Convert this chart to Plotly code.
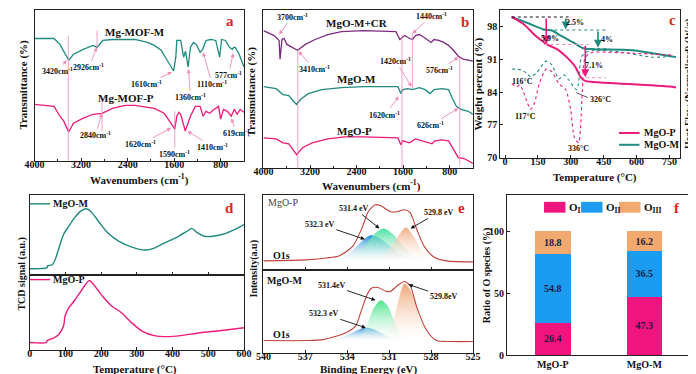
import plotly.graph_objects as go

# ---------------- data ----------------
# (a) FTIR of the MOF precursors (wavenumber cm-1, transmittance a.u.)
mof_m_wn = [4000,3665,3565,3414,3330,3163,2995,2926,2828,2660,2275,2058,1941,1823,1773,1723,1656,1610,1572,1555,
            1488,1438,1405,1360,1321,1271,1221,1154,1110,1053,969,886,819,785,718,651,601,577,551,484,400]
mof_m_t = [124,124,118,102,108,113,117,115,122,123,123,120,117,112,107,102,95,91,105,122,
           122,105,111,95,115,120,118,110,113,122,123,122,105,123,122,115,113,115,115,108,95]
mof_p_wn = [4000,3665,3565,3498,3414,3330,3163,2995,2840,2660,2442,2275,1941,1773,1656,1590,1555,1521,1488,1438,
            1410,1321,1237,1154,1103,1053,986,936,836,802,752,685,619,567,517,467,400]
mof_p_t = [57,55,45,40,29,38,43,47,48,53,56,56,53,48,38,32,45,49,47,35,
           30,45,55,55,45,50,48,51,55,42,52,50,45,52,47,52,49]

# (b) FTIR of the oxides
cr_wn = [4000,3900,3816,3732,3715,3682,3648,3598,3498,3414,3280,3113,2895,2660,2275,1723,1656,1622,1572,1488,
         1438,1388,1321,1237,1154,1120,1070,986,902,819,735,651,567,467,400]
cr_t = [140,137,135,130,111,131,132,126,123,120,126,131,136,139,140,139,131,133,135,132,
        131,135,136,133,130,128,131,130,128,125,120,114,111,110,109]
mgo_m_wn = [4000,3782,3665,3565,3481,3431,3364,3230,2995,2660,2275,1689,1639,1606,1522,1438,1321,1221,1137,1070,
            936,819,752,685,601,484,400]
mgo_m_t = [83,81,75,74,68,65,70,76,80,82,83,83,76,80,81,80,82,80,76,80,81,80,71,63,60,58,55]
mgo_p_wn = [4000,3782,3665,3565,3481,3431,3330,3163,2895,2610,2275,1689,1639,1606,1488,1388,1271,1154,1103,1053,
            936,819,735,651,551,400]
mgo_p_t = [31,30,26,25,18,14,21,26,30,32,32,31,24,28,26,30,28,26,25,28,29,28,20,11,10,5]

# (c) TGA (weight %) and DSC (heat flow, a.u.)
tga_p_T = [30,89,134,165,192,237,281,321,344,366,402,750,780]
tga_p_w = [100.1,98.4,96.3,95.1,94.2,93.2,91.5,89.4,87.3,86.4,86.2,85.2,85.0]
tga_m_T = [30,103,179,214,254,313,357,402,580,780]
tga_m_w = [100.1,98.8,97.4,97.2,96.1,94.6,93.4,93.2,93.0,91.5]
dsc_m_T = [31,76,103,116,147,188,214,246,268,290,326,335,348,371,402,536,670,772]
dsc_m_h = [9.0,8.9,8.5,8.2,8.7,9.8,9.4,8.0,8.4,7.9,6.9,7.5,10.2,10.7,10.9,10.7,10.2,10.3]
dsc_p_T = [31,54,67,80,103,117,134,156,188,214,246,277,299,317,336,344,353,362,379,402,580,772]
dsc_p_h = [7.5,7.2,7.4,6.9,5.5,4.9,5.5,7.5,9.0,8.7,7.5,6.9,4.9,2.0,1.5,2.9,6.9,9.9,10.5,10.7,10.6,10.4]

# (d) CO2-TPD
tpd_m_T = [0,49,50,63,72,81,95,109,126,145,158,172,195,217,249,286,322,349,376,412,440,454,468,490,513,549,586,600]
tpd_m_s = [6,7,9,10,16,26,41,49,58,65,67,64,53,43,34,28,25,27,32,38,44,47,43,39,39,42,48,51]
tpd_p_T = [0,47,49,63,81,95,99,109,126,145,158,167,181,204,227,258,286,317,349,385,422,477,532,600]
tpd_p_s = [8,8,10,12,16,25,35,43,51,61,68,71,66,55,46,38,28,19,15,14,15,18,20,23]

# (e) XPS O1s
xp_env_e = [540,537,535.5,534.6,533.6,532.9,532.5,532.0,531.6,530.9,530.4,529.9,529.5,529.1,528.5,527.8,526.9,525]
xp_env_i = [9,10,12,14,24,44,59,66,65,59,59,61,58,44,24,13,9,8]
xp_b_e = [536.0,535.0,534.0,533.3,532.8,532.3,531.8,531.0,530.3,529.5,528.5]
xp_b_i = [9,11,15,24,31,35,33,25,17,11,9]
xp_g_e = [534.5,533.5,532.7,532.0,531.4,530.8,530.0,529.3,528.5]
xp_g_i = [9,14,25,37,42,37,24,14,9]
xp_o_e = [532.0,531.0,530.4,529.8,529.2,528.6,528.0,527.5]
xp_o_i = [9,20,33,43,33,18,11,9]
xm_env_e = [540,537,535.7,534.1,533.4,533.0,532.6,532.3,531.8,531.2,530.9,530.4,529.9,529.5,529.0,528.3,527.6,526.5,525]
xm_env_i = [13,13,14,21,28,43,59,66,67,63,63,69,73,69,46,23,13,12,12]
xm_b_e = [535.5,534.5,533.8,533.2,532.7,532.2,531.6,531.0,530.4]
xm_b_i = [13,16,20,24,26,25,21,16,13]
xm_g_e = [533.2,532.6,532.1,531.6,531.1,530.6,530.1,529.6]
xm_g_i = [13,28,46,54,48,32,18,13]
xm_o_e = [531.4,530.9,530.4,529.9,529.4,528.9,528.3,527.6]
xm_o_i = [13,24,50,71,62,40,20,13]

# (f) oxygen species ratio
samples = ["MgO-P", "MgO-M"]
o1 = [26.4, 47.3]
o2 = [54.8, 36.5]
o3 = [18.8, 16.2]

# ---------------- styling ----------------
W, H = 696, 374
def X(px): return px / W
def Y(py): return 1 - py / H

SERIF = "Liberation Serif"
TEAL = "#1f8b80"; PINK = "#ec1a7b"; PURPLE = "#7b2c80"; RED = "#e8231b"
LPINK = "#f08ab8"; DARK = "#111111"
ENV = "#c2413c"

fig = go.Figure()

def line(x, y, xa, ya, color, width=1.3, dash="solid", shape="linear"):
    fig.add_trace(go.Scatter(x=x, y=y, xaxis=xa, yaxis=ya, mode="lines",
                             line=dict(color=color, width=width, dash=dash, shape=shape, smoothing=0.7),
                             hoverinfo="skip"))

# a
line(mof_m_wn, mof_m_t, "x", "y", TEAL, 1.3)
line(mof_p_wn, mof_p_t, "x", "y", PINK, 1.3)
# b
line(cr_wn, cr_t, "x2", "y2", PURPLE, 1.3)
line(mgo_m_wn, mgo_m_t, "x2", "y2", TEAL, 1.3)
line(mgo_p_wn, mgo_p_t, "x2", "y2", PINK, 1.3)
# c
line(dsc_m_T, dsc_m_h, "x3", "y4", TEAL, 1.1, "dot", "spline")
line(dsc_p_T, dsc_p_h, "x3", "y4", PINK, 1.1, "dot", "spline")
line(tga_m_T, tga_m_w, "x3", "y3", TEAL, 2, "solid", "spline")
line(tga_p_T, tga_p_w, "x3", "y3", PINK, 2, "solid", "spline")
# d
line(tpd_m_T, tpd_m_s, "x5", "y5", TEAL, 1.4, "solid", "spline")
line(tpd_p_T, tpd_p_s, "x6", "y6", PINK, 1.4, "solid", "spline")

# e
def comp(e, i, xa, ya, top):
    fig.add_trace(go.Scatter(x=e, y=i, xaxis=xa, yaxis=ya, mode="lines", fill="toself",
                             line=dict(width=0, shape="spline", smoothing=0.8),
                             fillgradient=dict(type="vertical",
                                               colorscale=[[0, "rgba(255,255,255,0.25)"], [1, top]]),
                             hoverinfo="skip"))
comp(xp_b_e, xp_b_i, "x7", "y7", "rgba(25,135,215,0.95)")
comp(xp_g_e, xp_g_i, "x7", "y7", "rgba(50,220,150,0.9)")
comp(xp_o_e, xp_o_i, "x7", "y7", "rgba(240,165,120,0.9)")
line(xp_env_e, xp_env_i, "x7", "y7", ENV, 1.1, "solid", "spline")
comp(xm_b_e, xm_b_i, "x8", "y8", "rgba(40,140,215,0.9)")
comp(xm_g_e, xm_g_i, "x8", "y8", "rgba(60,225,130,0.9)")
comp(xm_o_e, xm_o_i, "x8", "y8", "rgba(238,160,110,0.95)")
line(xm_env_e, xm_env_i, "x8", "y8", ENV, 1.1, "solid", "spline")

# f
FPINK = "#f0147e"; FBLUE = "#1c9cf0"; FTAN = "#f2a96f"
for vals, col in [(o1, FPINK), (o2, FBLUE), (o3, FTAN)]:
    fig.add_trace(go.Bar(x=samples, y=vals, xaxis="x9", yaxis="y9", width=0.39,
                         marker=dict(color=col, line=dict(width=0)),
                         texttemplate="%{y}", textposition="inside", insidetextanchor="middle",
                         textangle=0, constraintext="none",
                         textfont=dict(family=SERIF, size=10, color="#1b1b44", weight="bold"),
                         hoverinfo="skip"))

# ---------------- axes ----------------
TF = dict(family=SERIF, size=10, color=DARK, weight="bold")
def axis(dom, rng, **kw):
    d = dict(domain=dom, range=rng, showline=True, linecolor="#222", linewidth=1, mirror=True,
             showgrid=False, zeroline=False, ticks="inside", ticklen=3, tickwidth=1,
             tickcolor="#222", tickfont=TF)
    d.update(kw)
    return d

SO = -6
lay = dict(
    xaxis=axis([X(17), X(232)], [4000, 400], anchor="y", tickmode="linear", tick0=800, dtick=800,
               minor=dict(dtick=400, ticks="inside", ticklen=2), ticklabelstandoff=SO),
    yaxis=axis([Y(155), Y(2)], [0, 153], anchor="x", showticklabels=False, ticks=""),
    xaxis2=axis([X(252), X(467)], [4000, 400], anchor="y2", tickmode="linear", tick0=800, dtick=800,
                minor=dict(dtick=400, ticks="inside", ticklen=2), ticklabelstandoff=SO),
    yaxis2=axis([Y(163), Y(2)], [0, 161], anchor="x2", showticklabels=False, ticks=""),
    xaxis3=axis([X(495), X(680)], [-22, 800], anchor="y3", tickmode="linear", tick0=0, dtick=150,
                ticklabelstandoff=SO),
    yaxis3=axis([Y(152), Y(2)], [70, 101.6], anchor="x3", tickmode="linear", tick0=70, dtick=7),
    yaxis4=dict(overlaying="y3", side="right", range=[0, 15], showticklabels=False, showline=False,
                showgrid=False, zeroline=False, ticks="", anchor="x3"),
    xaxis5=axis([X(12), X(232)], [0, 600], anchor="y5", dtick=100, showticklabels=False),
    yaxis5=axis([Y(271), Y(190)], [0, 81], anchor="x5", showticklabels=False, ticks=""),
    xaxis6=axis([X(12), X(232)], [0, 600], anchor="y6", dtick=100, tick0=0, ticklabelstandoff=SO),
    yaxis6=axis([Y(348), Y(271)], [0, 77], anchor="x6", showticklabels=False, ticks=""),
    xaxis7=axis([X(252), X(467)], [540, 525], anchor="y7", tickmode="linear", tick0=525, dtick=3,
                showticklabels=False),
    yaxis7=axis([Y(266), Y(190)], [0, 76], anchor="x7", showticklabels=False, ticks=""),
    xaxis8=axis([X(252), X(467)], [540, 525], anchor="y8", tickmode="linear", tick0=525, dtick=3,
                ticklabelstandoff=SO),
    yaxis8=axis([Y(351), Y(266)], [0, 85], anchor="x8", showticklabels=False, ticks=""),
    xaxis9=axis([X(502), X(690)], [-0.5, 1.5], anchor="y9", type="category", ticks=""),
    yaxis9=axis([Y(353), Y(190)], [0, 129], anchor="x9", tickvals=[0, 50, 100]),
)

# ---------------- annotations ----------------
ann = []
shapes = []

def txt(x, y, s, size=9, color=DARK, bold=True, xanchor="center", angle=0):
    ann.append(dict(x=X(x), y=Y(y), xref="paper", yref="paper", text=s, showarrow=False,
                    font=dict(family=SERIF, size=size, color=color, weight="bold" if bold else "normal"),
                    xanchor=xanchor, yanchor="middle", textangle=angle))

def arr(hx, hy, tx, ty, s, color=LPINK, size=8, tcolor=DARK):
    ann.append(dict(x=X(hx), y=Y(hy), xref="paper", yref="paper", ax=tx - hx, ay=ty - hy,
                    text=s, showarrow=True, arrowhead=2, arrowsize=0.9, arrowwidth=0.9, arrowcolor=color,
                    font=dict(family=SERIF, size=size, color=tcolor, weight="bold")))

def vline(xref, xv, y0, y1, color=LPINK, width=0.8):
    shapes.append(dict(type="line", xref=xref, yref="paper", x0=xv, x1=xv, y0=Y(y0), y1=Y(y1),
                       line=dict(color=color, width=width)))

CM = "cm<sup>-1</sup>"
# a
for wn, y0, y1 in [(3420, 28, 155), (2926, 23, 40), (2840, 95, 125), (1590, 105, 142)]:
    vline("x", wn, y0, y1)
txt(120, 24, "Mg-MOF-M", 11)
txt(111, 91, "Mg-MOF-P", 11)
txt(218, 13, "a", 15, RED)
arr(50, 53, 41, 64, "3420" + CM)
arr(81, 40, 73, 60, "2926" + CM)
arr(158, 65, 133, 77, "1610" + CM)
arr(175, 62, 177, 90, "1360" + CM)
arr(190, 45, 199, 77, "1110" + CM)
arr(221, 46, 216, 68, "577" + CM)
arr(86, 107, 80, 129, "2840" + CM)
arr(157, 122, 127, 138, "1620" + CM)
txt(161, 148, "1590" + CM, 8)
arr(174, 125, 199, 141, "1410" + CM)
arr(219, 112, 224, 127, "619" + CM)
txt(125, 174, "Wavenumbers (cm<sup>-1</sup>)", 11)
txt(6, 78, "Transmittance (%)", 11, angle=-90)

# b
for wn, y0, y1 in [(3410, 43, 163), (1620, 27, 163), (1440, 25, 82), (626, 50, 160)]:
    vline("x2", wn, y0, y1)
txt(348, 15, "MgO-M+CR", 11)
txt(347, 72, "MgO-M", 11)
txt(345, 125, "MgO-P", 11)
txt(459, 14, "b", 15, RED)
arr(268, 27, 281, 9, "3700" + CM)
arr(405, 26, 424, 8, "1440" + CM)
arr(288, 44, 304, 62, "3410" + CM)
arr(404, 80, 388, 54, "1420" + CM)
arr(452, 50, 433, 63, "576" + CM)
arr(391, 90, 377, 108, "1620" + CM)
arr(452, 102, 424, 119, "626" + CM)
txt(363, 180, "Wavenumbers (cm<sup>-1</sup>)", 11)
txt(240, 85, "Transmittance (%)", 11, angle=-90)

# c
def dl(x0, x1, yv, color):
    shapes.append(dict(type="line", xref="x3", yref="y3", x0=x0, x1=x1, y0=yv, y1=yv,
                       line=dict(color=color, width=1.1, dash="dot")))
dl(31, 290, 100.1, "#111")
dl(170, 460, 97.3, TEAL)
dl(366, 478, 93.3, TEAL)
dl(179, 380, 94.2, LPINK)
dl(370, 460, 87.1, LPINK)
def carr(xv, y0, y1, color):
    ann.append(dict(x=xv, y=y1, ax=xv, ay=y0, xref="x3", yref="y3", axref="x3", ayref="y3",
                    text="", showarrow=True, arrowhead=2, arrowsize=1, arrowwidth=1.6, arrowcolor=color))
carr(277, 100.1, 97.4, TEAL)
carr(424, 97.3, 93.5, TEAL)
carr(188, 100.1, 94.3, PINK)
carr(366, 94.2, 87.2, PINK)
txt(572, 15, "2.5%", 8)
txt(546, 31, "5.9%", 8)
txt(605, 32, "4%", 8)
txt(591, 58, "7.1%", 8)
txt(518, 75, "116°C", 8)
txt(521, 110, "117°C", 8)
txt(598, 93, "326°C", 8)
txt(575, 143, "336°C", 8)
shapes.append(dict(type="line", xref="paper", yref="paper", x0=X(573), x1=X(585), y0=Y(86), y1=Y(91),
                   line=dict(color="#333", width=0.8)))
shapes.append(dict(type="line", xref="paper", yref="paper", x0=X(617), x1=X(638), y0=Y(127), y1=Y(127),
                   line=dict(color=PINK, width=2)))
shapes.append(dict(type="line", xref="paper", yref="paper", x0=X(617), x1=X(638), y0=Y(139), y1=Y(139),
                   line=dict(color=TEAL, width=2)))
txt(641, 127, "MgO-P", 10, xanchor="left")
txt(641, 139, "MgO-M", 10, xanchor="left")
txt(672, 12, "c", 15, RED)
txt(592, 172, "Temperature (°C)", 11)
txt(473, 77, "Weight percent (%)", 11, angle=-90)
txt(689, 77, "Heat Flow (Normalized) (W/g)", 10, angle=-90)

# d
shapes.append(dict(type="line", xref="paper", yref="paper", x0=X(12), x1=X(33), y0=Y(199), y1=Y(199),
                   line=dict(color=TEAL, width=1.4)))
shapes.append(dict(type="line", xref="paper", yref="paper", x0=X(12), x1=X(33), y0=Y(276), y1=Y(276),
                   line=dict(color=PINK, width=1.4)))
txt(34, 199, "MgO-M", 10, xanchor="left")
txt(34, 276, "MgO-P", 10, xanchor="left")
txt(217, 203, "d", 15, RED)
txt(120, 367, "Temperature (°C)", 11)
txt(4, 270, "TCD signal (a.u.)", 10, angle=-90)

# e
txt(255, 198, "MgO-P", 10, color="#444", bold=False, xanchor="left")
txt(270, 252, "O1s", 10)
txt(254, 277, "MgO-M", 10, xanchor="left")
txt(270, 332, "O1s", 10)
txt(455, 203, "e", 15, RED)
arr(371, 224, 346, 204, "531.4 eV", color="#111", size=8)
arr(356, 235, 311, 220, "532.3 eV", color="#111", size=8)
arr(403, 224, 431, 208, "529.8 eV", color="#111", size=8)
arr(367, 297, 323, 282, "531.4eV", color="#111", size=8)
arr(401, 281, 436, 293, "529.8eV", color="#111", size=8)
arr(357, 325, 315, 311, "532.3 eV", color="#111", size=8)
txt(360, 367, "Binding Energy (eV)", 11)
txt(242, 265, "Intensity(a.u)", 10, angle=-90)

# f
for x0, col, lbl in [(540, FPINK, "O<sub>I</sub>"), (578, FBLUE, "O<sub>II</sub>"), (617, FTAN, "O<sub>III</sub>")]:
    shapes.append(dict(type="rect", xref="paper", yref="paper", x0=X(x0), x1=X(x0 + 22), y0=Y(208), y1=Y(197),
                       fillcolor=col, line=dict(width=0)))
    txt(x0 + 24, 203, lbl, 11, xanchor="left")
txt(677, 203, "f", 15, RED)
txt(481, 272, "Ratio of O species (%)", 10, angle=-90)

fig.update_layout(width=W, height=H, margin=dict(l=0, r=0, t=0, b=0), showlegend=False,
                  plot_bgcolor="white", paper_bgcolor="white", barmode="stack",
                  annotations=ann, shapes=shapes, **lay)
fig.write_html("out.html")
